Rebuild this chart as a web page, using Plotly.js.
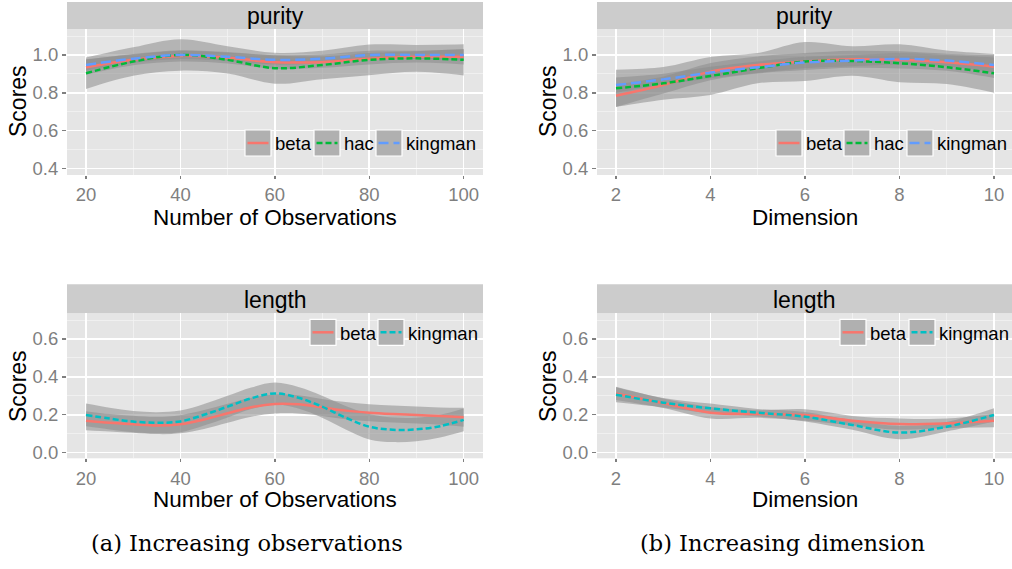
<!DOCTYPE html>
<html>
<head>
<meta charset="utf-8">
<script src="https://cdn.plot.ly/plotly-3.0.1.min.js"></script>
<style>html,body{margin:0;padding:0;background:#fff;}#chart{width:1012px;height:569px;}</style>
</head>
<body>
<div id="chart"></div>
<script>
// ---- data ----
var obsX = [20, 30, 40, 50, 60, 70, 80, 90, 100];
var purityObsBeta    = [0.935, 0.975, 0.995, 0.985, 0.962, 0.962, 0.980, 0.990, 0.990];
var purityObsHac     = [0.903, 0.965, 1.000, 0.974, 0.930, 0.947, 0.974, 0.982, 0.974];
var purityObsKingman = [0.947, 0.980, 1.000, 0.990, 0.974, 0.980, 1.000, 1.000, 1.000];
var purityObsBetaSe    = [0.040, 0.030, 0.030, 0.030, 0.035, 0.030, 0.030, 0.030, 0.040];
var purityObsHacSe     = [0.083, 0.075, 0.083, 0.072, 0.082, 0.075, 0.081, 0.071, 0.082];
var purityObsKingmanSe = [0.030, 0.022, 0.022, 0.022, 0.025, 0.022, 0.022, 0.022, 0.030];

var dimX = [2, 3, 4, 5, 6, 7, 8, 9, 10];
var purityDimBeta    = [0.785, 0.841, 0.912, 0.947, 0.965, 0.977, 0.974, 0.961, 0.938];
var purityDimHac     = [0.824, 0.850, 0.889, 0.930, 0.965, 0.968, 0.956, 0.935, 0.903];
var purityDimKingman = [0.841, 0.871, 0.907, 0.935, 0.960, 0.970, 0.979, 0.970, 0.947];
var purityDimBetaSe    = [0.060, 0.045, 0.045, 0.045, 0.045, 0.045, 0.045, 0.045, 0.060];
var purityDimHacSe     = [0.098, 0.086, 0.100, 0.080, 0.103, 0.078, 0.100, 0.088, 0.102];
var purityDimKingmanSe = [0.040, 0.030, 0.030, 0.030, 0.030, 0.030, 0.030, 0.030, 0.040];

var obsX2 = [20, 25, 30, 35, 40, 45, 50, 55, 60, 65, 70, 75, 80, 85, 90, 95, 100];
var lengthObsBeta    = [0.169, 0.158, 0.150, 0.143, 0.150, 0.175, 0.208, 0.240, 0.257, 0.255, 0.239, 0.222, 0.211, 0.204, 0.199, 0.193, 0.187];
var lengthObsKingman = [0.199, 0.180, 0.164, 0.158, 0.165, 0.200, 0.243, 0.287, 0.313, 0.290, 0.243, 0.185, 0.137, 0.121, 0.123, 0.140, 0.173];
var lengthObsBetaSe    = [0.050, 0.046, 0.045, 0.045, 0.048, 0.050, 0.050, 0.050, 0.050, 0.048, 0.045, 0.045, 0.045, 0.045, 0.045, 0.046, 0.050];
var lengthObsKingmanSe = [0.060, 0.057, 0.056, 0.056, 0.057, 0.057, 0.057, 0.057, 0.057, 0.057, 0.058, 0.062, 0.067, 0.065, 0.062, 0.060, 0.060];

var lengthDimBeta    = [0.313, 0.261, 0.211, 0.204, 0.199, 0.169, 0.151, 0.155, 0.169];
var lengthDimKingman = [0.306, 0.264, 0.234, 0.211, 0.190, 0.146, 0.106, 0.137, 0.199];
var lengthDimBetaSe    = [0.035, 0.025, 0.030, 0.020, 0.030, 0.025, 0.030, 0.025, 0.035];
var lengthDimKingmanSe = [0.040, 0.025, 0.025, 0.020, 0.025, 0.025, 0.035, 0.025, 0.035];

var purityTicks = [0.4, 0.6, 0.8, 1.0];
var lengthTicks = [0.0, 0.2, 0.4, 0.6];
var obsTicks = [20, 40, 60, 80, 100];
var dimTicks = [2, 4, 6, 8, 10];
var stripLabels = ['purity', 'purity', 'length', 'length'];
var xTitles = ['Number of Observations', 'Dimension', 'Number of Observations', 'Dimension'];
var yTitle = 'Scores';
var captions = ['(a) Increasing observations', '(b) Increasing dimension'];

// ---- styles ----
var COL = {beta: '#F8766D', hac: '#00BA38', kingman3: '#619CFF', kingman2: '#00BFC4'};
var RIBBON = 'rgba(140,140,140,0.55)';
var SANS = 'Liberation Sans, Arial, sans-serif';
var W = 1012, H = 569;
function px(x) { return x / W; }
function py(y) { return 1 - y / H; }

var traces = [];
function addSmooth(xa, ya, x, y, se) {
  var lo = y.map(function (v, i) { return v - se[i]; });
  var hi = y.map(function (v, i) { return v + se[i]; });
  traces.push({x: x, y: lo, xaxis: xa, yaxis: ya, mode: 'lines', line: {width: 0, shape: 'spline'}, showlegend: false, hoverinfo: 'skip'});
  traces.push({x: x, y: hi, xaxis: xa, yaxis: ya, mode: 'lines', line: {width: 0, shape: 'spline'}, fill: 'tonexty', fillcolor: RIBBON, showlegend: false, hoverinfo: 'skip'});
}
function addLine(xa, ya, x, y, color, dash, name) {
  traces.push({x: x, y: y, xaxis: xa, yaxis: ya, mode: 'lines', name: name, line: {color: color, width: 2.5, dash: dash, shape: 'spline'}, showlegend: false});
}

// panel 1
addSmooth('x', 'y', obsX, purityObsBeta, purityObsBetaSe);
addSmooth('x', 'y', obsX, purityObsHac, purityObsHacSe);
addSmooth('x', 'y', obsX, purityObsKingman, purityObsKingmanSe);
addLine('x', 'y', obsX, purityObsBeta, COL.beta, 'solid', 'beta');
addLine('x', 'y', obsX, purityObsHac, COL.hac, '6px,3px', 'hac');
addLine('x', 'y', obsX, purityObsKingman, COL.kingman3, '10px,5px', 'kingman');
// panel 2
addSmooth('x2', 'y2', dimX, purityDimBeta, purityDimBetaSe);
addSmooth('x2', 'y2', dimX, purityDimHac, purityDimHacSe);
addSmooth('x2', 'y2', dimX, purityDimKingman, purityDimKingmanSe);
addLine('x2', 'y2', dimX, purityDimBeta, COL.beta, 'solid', 'beta');
addLine('x2', 'y2', dimX, purityDimHac, COL.hac, '6px,3px', 'hac');
addLine('x2', 'y2', dimX, purityDimKingman, COL.kingman3, '10px,5px', 'kingman');
// panel 3
addSmooth('x3', 'y3', obsX2, lengthObsBeta, lengthObsBetaSe);
addSmooth('x3', 'y3', obsX2, lengthObsKingman, lengthObsKingmanSe);
addLine('x3', 'y3', obsX2, lengthObsBeta, COL.beta, 'solid', 'beta');
addLine('x3', 'y3', obsX2, lengthObsKingman, COL.kingman2, '6px,3px', 'kingman');
// panel 4
addSmooth('x4', 'y4', dimX, lengthDimBeta, lengthDimBetaSe);
addSmooth('x4', 'y4', dimX, lengthDimKingman, lengthDimKingmanSe);
addLine('x4', 'y4', dimX, lengthDimBeta, COL.beta, 'solid', 'beta');
addLine('x4', 'y4', dimX, lengthDimKingman, COL.kingman2, '6px,3px', 'kingman');

var tickFont = {family: SANS, size: 18.5, color: '#7F7F7F'};
function xaxis(dom, range, ticks, minorD, anchor) {
  return {domain: dom, range: range, anchor: anchor, tickvals: ticks, ticktext: ticks.map(String),
    showgrid: true, gridcolor: '#FFFFFF', gridwidth: 1.6, zeroline: false, showline: false,
    ticks: 'outside', ticklen: 3, tickwidth: 1.4, tickcolor: '#7F7F7F', tickfont: tickFont,
    minor: {dtick: minorD, tick0: ticks[0], showgrid: true, gridcolor: '#F2F2F2', gridwidth: 0.8, ticks: ''},
    fixedrange: true};
}
function yaxis(dom, range, ticks, anchor) {
  return {domain: dom, range: range, anchor: anchor, tickvals: ticks, ticktext: ticks.map(function (v) { return v.toFixed(1); }),
    showgrid: true, gridcolor: '#FFFFFF', gridwidth: 1.6, zeroline: false, showline: false,
    ticks: 'outside', ticklen: 4, tickwidth: 1.4, tickcolor: '#7F7F7F', tickfont: tickFont,
    minor: {dtick: 0.1, tick0: 0, showgrid: true, gridcolor: '#F2F2F2', gridwidth: 0.8, ticks: ''},
    fixedrange: true};
}

var leftDom = [px(67), px(483)];
var rightDom = [px(597), 1];
var topDom = [py(175), py(29)];
var botDom = [py(458.3), py(313.3)];
var obsRange = [15.98, 104.09];
var dimRange = [1.598, 10.381];
var purityRange = [0.366, 1.137];
var lengthRange = [-0.0296, 0.7356];

var shapes = [], annotations = [];
// strips
var strips = [[67, 483, 2, 29], [597, 1012, 2, 29], [67, 483, 284.3, 313.3], [597, 1012, 284.3, 313.3]];
strips.forEach(function (s, i) {
  shapes.push({type: 'rect', xref: 'paper', yref: 'paper', x0: px(s[0]), x1: px(s[1]), y0: py(s[3]), y1: py(s[2]), fillcolor: '#CCCCCC', line: {width: 0}, layer: 'below'});
  annotations.push({xref: 'paper', yref: 'paper', x: px((s[0] + s[1]) / 2), y: py((s[2] + s[3]) / 2 + 1), text: stripLabels[i], showarrow: false, xanchor: 'center', yanchor: 'middle', font: {family: SANS, size: 23, color: '#000'}});
});
// axis titles (x centre, y centre)
var xTitlePos = [[275, 217], [804.5, 217], [275, 499], [804.5, 499]];
xTitlePos.forEach(function (p, i) {
  annotations.push({xref: 'paper', yref: 'paper', x: px(p[0]), y: py(p[1]), text: xTitles[i], showarrow: false, xanchor: 'center', yanchor: 'middle', font: {family: SANS, size: 22.5, color: '#000'}});
});
var yTitlePos = [[18, 101], [548, 101], [18, 386], [548, 386]];
yTitlePos.forEach(function (p) {
  annotations.push({xref: 'paper', yref: 'paper', x: px(p[0]), y: py(p[1]), text: yTitle, textangle: -90, showarrow: false, xanchor: 'center', yanchor: 'middle', font: {family: SANS, size: 23, color: '#000'}});
});
// legends: [keyLeft, keyTop, label, color, dash]
var legends = [
  [245, 130, 'beta', COL.beta, 'solid'], [314, 130, 'hac', COL.hac, '6px,3px'], [376, 130, 'kingman', COL.kingman3, '10px,5px'],
  [776, 130, 'beta', COL.beta, 'solid'], [844, 130, 'hac', COL.hac, '6px,3px'], [907, 130, 'kingman', COL.kingman3, '10px,5px'],
  [310, 319.3, 'beta', COL.beta, 'solid'], [378, 319.3, 'kingman', COL.kingman2, '6px,3px'],
  [840, 319.3, 'beta', COL.beta, 'solid'], [909, 319.3, 'kingman', COL.kingman2, '6px,3px']
];
legends.forEach(function (l) {
  var k = 26;
  shapes.push({type: 'rect', xref: 'paper', yref: 'paper', x0: px(l[0]), x1: px(l[0] + k), y0: py(l[1] + k), y1: py(l[1]), fillcolor: '#B0B0B0', line: {color: '#FFFFFF', width: 1.2}});
  shapes.push({type: 'line', xref: 'paper', yref: 'paper', x0: px(l[0] + 2.5), x1: px(l[0] + k - 2.5), y0: py(l[1] + k / 2), y1: py(l[1] + k / 2), line: {color: l[3], width: 2.5, dash: l[4]}});
  annotations.push({xref: 'paper', yref: 'paper', x: px(l[0] + k + 2), y: py(l[1] + k / 2 + 1), text: l[2], showarrow: false, xanchor: 'left', yanchor: 'middle', font: {family: SANS, size: 18.5, color: '#000'}});
});
// captions
annotations.push({xref: 'paper', yref: 'paper', x: px(246.5), y: py(543), text: captions[0], showarrow: false, xanchor: 'center', yanchor: 'middle', font: {family: 'DejaVu Serif, serif', size: 22.5, color: '#000'}});
annotations.push({xref: 'paper', yref: 'paper', x: px(782.5), y: py(543), text: captions[1], showarrow: false, xanchor: 'center', yanchor: 'middle', font: {family: 'DejaVu Serif, serif', size: 22.5, color: '#000'}});

var layout = {
  width: W, height: H, margin: {l: 0, r: 0, t: 0, b: 0},
  paper_bgcolor: '#FFFFFF', plot_bgcolor: '#E5E5E5', showlegend: false,
  xaxis: xaxis(leftDom, obsRange, obsTicks, 10, 'y'),
  yaxis: yaxis(topDom, purityRange, purityTicks, 'x'),
  xaxis2: xaxis(rightDom, dimRange, dimTicks, 1, 'y2'),
  yaxis2: yaxis(topDom, purityRange, purityTicks, 'x2'),
  xaxis3: xaxis(leftDom, obsRange, obsTicks, 10, 'y3'),
  yaxis3: yaxis(botDom, lengthRange, lengthTicks, 'x3'),
  xaxis4: xaxis(rightDom, dimRange, dimTicks, 1, 'y4'),
  yaxis4: yaxis(botDom, lengthRange, lengthTicks, 'x4'),
  shapes: shapes, annotations: annotations
};
Plotly.newPlot('chart', traces, layout, {displayModeBar: false, staticPlot: true});
</script>
</body>
</html>
